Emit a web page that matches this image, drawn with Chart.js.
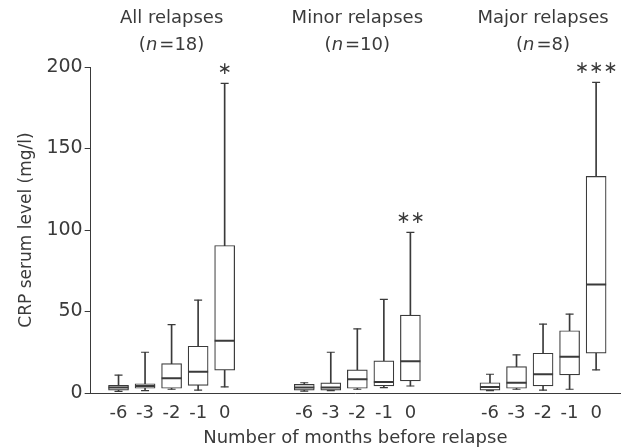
<!DOCTYPE html>
<html>
<head>
<meta charset="utf-8">
<script src="https://cdn.jsdelivr.net/npm/chart.js@4.4.1/dist/chart.umd.min.js"></script>
<style>
  html, body { margin: 0; padding: 0; background: #fff; }
  #wrap { width: 623px; height: 447px; }
</style>
</head>
<body>
<div id="wrap"><canvas id="boxChart"></canvas></div>
<script>
// groups of relapses and months before relapse
const groups = ['All relapses', 'Minor relapses', 'Major relapses'];
const groupN = [18, 10, 8];
const stars = ['\u2217', '\u2217\u2217', '\u2217\u2217\u2217'];
const months = ['-6', '-3', '-2', '-1', '0'];

// box statistics, 5 boxes per group (All, Minor, Major), CRP mg/l
const whiskerLow = [1, 1.5, 2.3, 1.8, 3.7,   1.2, 1.5, 2.3, 3.3, 4.3,   1.5, 2.3, 1.8, 2.3, 14.2];
const q1         = [1.7, 2.9, 2.9, 4.7, 14,  1.7, 1.8, 2.9, 4.3, 7.4,   1.8, 2.9, 4.3, 11.1, 24.4];
const median     = [3.3, 4.3, 9, 13, 32,     3.3, 3.3, 8.4, 6.8, 19.5,  3.7, 6.3, 11.5, 22.2, 66.5];
const q3         = [4.7, 5.7, 18, 28.7, 90.5, 5.3, 6.2, 14.2, 19.7, 47.8, 6.3, 16.2, 24.4, 38.2, 132.9];
const whiskerHigh = [11, 25, 42, 57, 190,    6.3, 25, 39.4, 57.4, 98.5, 11.5, 23.4, 42.3, 48.4, 190.6];

const yTicks = [0, 50, 100, 150, 200];

const FONT = "'DejaVu Sans', sans-serif";
const INK = '#3a3a3a';
const GAP = 2; // empty slots between groups

// x position of each box
function xPos(i) {
  const g = Math.floor(i / months.length);
  return g * (months.length + GAP) + (i % months.length);
}
const xs = whiskerLow.map((v, i) => xPos(i));
const tickPositions = xs.slice();

const whiskers = xs.map((x, i) => ({ x: x, y: [whiskerLow[i], whiskerHigh[i]] }));
const boxes = xs.map((x, i) => ({ x: x, y: [q1[i], q3[i]] }));
const medians = xs.map((x, i) => ({ x: x, y: median[i] }));
const caps = xs.map((x, i) => ({ x: x, y: whiskerHigh[i] }))
  .concat(xs.map((x, i) => ({ x: x, y: whiskerLow[i] })));

// group titles and significance marks
const annotations = {
  id: 'annotations',
  afterDraw(chart) {
    const ctx = chart.ctx;
    const xScale = chart.scales.x;
    const yScale = chart.scales.y;
    ctx.save();
    ctx.fillStyle = INK;
    ctx.textBaseline = 'middle';
    groups.forEach((name, g) => {
      const cx = xScale.getPixelForValue(g * (months.length + GAP) + 2);
      ctx.font = '18px ' + FONT;
      ctx.textAlign = 'center';
      ctx.fillText(name, cx, 18);

      // "(n=18)" with italic n
      const pre = '(';
      const n = 'n';
      const post = '=' + groupN[g] + ')';
      ctx.font = '18px ' + FONT;
      const wPre = ctx.measureText(pre).width;
      const wPost = ctx.measureText(post).width;
      ctx.font = 'italic 18px ' + FONT;
      const wN = ctx.measureText(n).width + 2;
      let x0 = cx - (wPre + wN + wPost) / 2;
      ctx.textAlign = 'left';
      ctx.font = '18px ' + FONT;
      ctx.fillText(pre, x0, 45);
      ctx.font = 'italic 18px ' + FONT;
      ctx.fillText(n, x0 + wPre, 45);
      ctx.font = '18px ' + FONT;
      ctx.fillText(post, x0 + wPre + wN, 45);

      // stars above the month-0 box
      const last = g * months.length + months.length - 1;
      const sx = xScale.getPixelForValue(xs[last]);
      const sy = yScale.getPixelForValue(whiskerHigh[last]) - 14;
      ctx.font = '17px ' + FONT;
      ctx.textAlign = 'center';
      ctx.fillText(stars[g], sx, sy);
    });
    ctx.restore();
  }
};

const config = {
  type: 'bar',
  data: {
    datasets: [
      {
        label: 'whisker',
        data: whiskers,
        backgroundColor: INK,
        borderWidth: 0,
        barThickness: 1,
        grouped: false,
        order: 4
      },
      {
        label: 'box',
        data: boxes,
        backgroundColor: '#fff',
        borderColor: INK,
        borderWidth: 1.2,
        borderSkipped: false,
        barThickness: 20,
        grouped: false,
        order: 3
      },
      {
        type: 'scatter',
        label: 'caps',
        data: caps,
        pointStyle: 'line',
        pointRadius: 4,
        borderColor: INK,
        borderWidth: 1.2,
        order: 2
      },
      {
        type: 'scatter',
        label: 'median',
        data: medians,
        pointStyle: 'line',
        pointRadius: 10,
        borderColor: INK,
        borderWidth: 2,
        order: 1
      }
    ]
  },
  options: {
    responsive: true,
    maintainAspectRatio: false,
    animation: false,
    layout: { autoPadding: false, padding: { top: 67, right: 3, left: 16, bottom: 0 } },
    plugins: {
      legend: { display: false },
      tooltip: { enabled: false }
    },
    scales: {
      x: {
        type: 'linear',
        offset: false,
        min: -1.05,
        max: 18.9,
        afterBuildTicks(axis) {
          axis.ticks = tickPositions.map(v => ({ value: v }));
        },
        ticks: {
          autoSkip: false,
          maxRotation: 0,
          padding: 11,
          color: INK,
          font: { family: FONT, size: 18, lineHeight: 1.0 },
          callback: (value, index) => months[index % months.length]
        },
        grid: { display: false, drawTicks: false },
        border: { color: INK, width: 1 },
        title: {
          display: true,
          text: 'Number of months before relapse',
          color: INK,
          font: { family: FONT, size: 18, lineHeight: 1.0 },
          padding: { top: -4, bottom: 0 }
        }
      },
      y: {
        min: 0,
        max: 200,
        afterBuildTicks(axis) {
          axis.ticks = yTicks.map(v => ({ value: v }));
        },
        ticks: {
          color: INK,
          padding: 2,
          font: { family: FONT, size: 19 }
        },
        grid: {
          drawOnChartArea: false,
          tickLength: 6,
          color: INK
        },
        border: { color: INK, width: 1 },
        title: {
          display: true,
          text: 'CRP serum level (mg/l)',
          color: INK,
          font: { family: FONT, size: 17 },
          padding: { top: 0, bottom: 8 }
        }
      }
    }
  },
  plugins: [annotations]
};

const boxChart = new Chart(document.getElementById('boxChart'), config);
</script>
</body>
</html>
